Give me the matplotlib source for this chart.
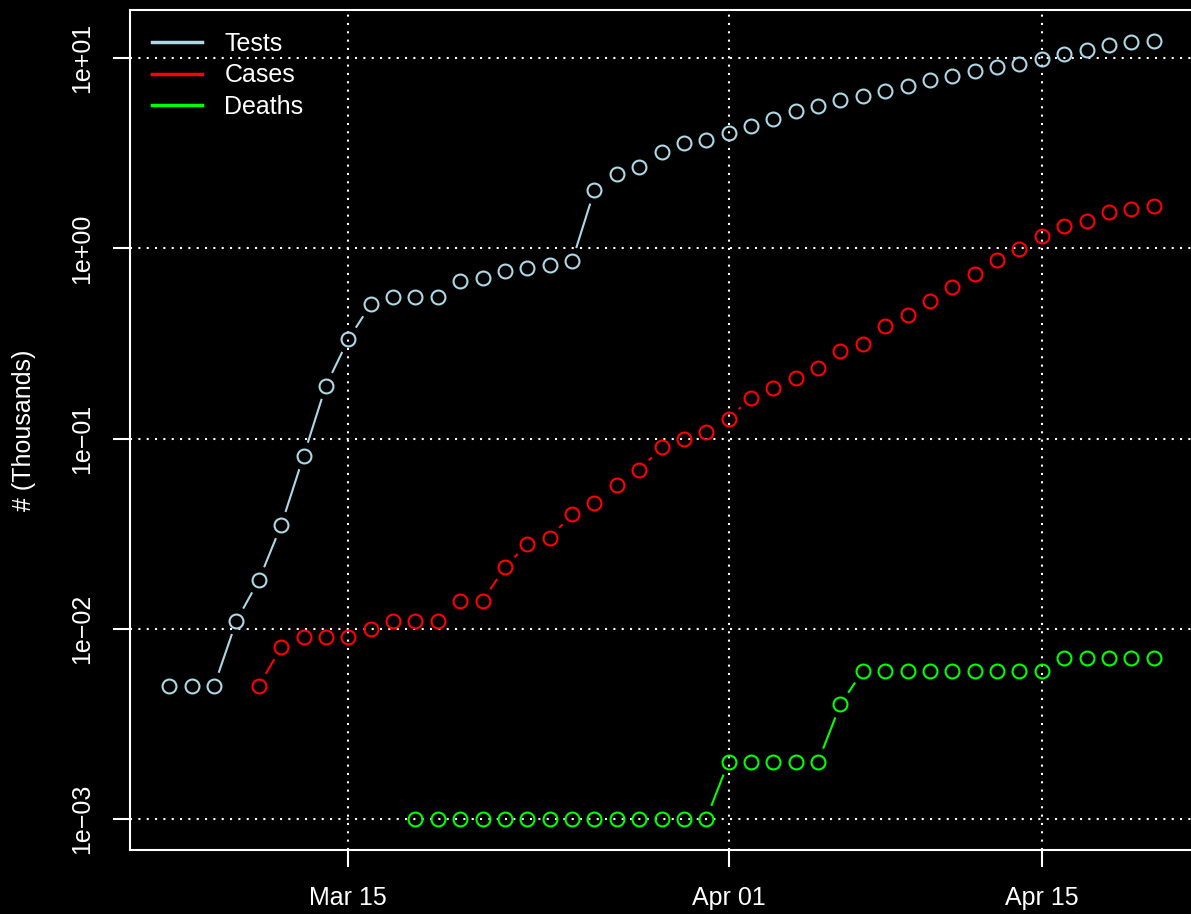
import numpy as np
import pandas as pd
import matplotlib
matplotlib.use('Agg')
import matplotlib.pyplot as plt
import matplotlib.dates as mdates
from matplotlib.lines import Line2D

# values in thousands, one per day
tests_start = '2020-03-07'
tests = [0.005, 0.005, 0.005, 0.011, 0.018, 0.035, 0.081, 0.19, 0.332, 0.507,
         0.558, 0.558, 0.558, 0.67, 0.70, 0.757, 0.785, 0.814, 0.855, 2.02,
         2.45, 2.67, 3.2, 3.57, 3.7, 4.03, 4.39, 4.78, 5.26, 5.59,
         6.01, 6.31, 6.7, 7.12, 7.66, 8.04, 8.55, 8.97, 9.3, 9.88,
         10.5, 11.0, 11.7, 12.1, 12.3]

cases_start = '2020-03-11'
cases = [0.005, 0.008, 0.009, 0.009, 0.009, 0.010, 0.011, 0.011, 0.011, 0.014,
         0.014, 0.021, 0.028, 0.030, 0.040, 0.046, 0.057, 0.068, 0.090, 0.100,
         0.108, 0.127, 0.164, 0.185, 0.209, 0.236, 0.287, 0.316, 0.393, 0.444,
         0.532, 0.624, 0.73, 0.865, 0.99, 1.16, 1.31, 1.40, 1.55, 1.62, 1.68]

deaths_start = '2020-03-18'
deaths = [0.001] * 14 + [0.002] * 5 + [0.004] + [0.006] * 9 + [0.007] * 5

series = [('Tests', tests_start, tests, 'lightblue'),
          ('Cases', cases_start, cases, 'red'),
          ('Deaths', deaths_start, deaths, '#00FF00')]

tick_dates = ['2020-03-15', '2020-04-01', '2020-04-15']
ytick_vals = [0.001, 0.01, 0.1, 1, 10]
ytick_labels = ['1e\u221203', '1e\u221202', '1e\u221201', '1e+00', '1e+01']

plt.rcParams['font.family'] = ['Liberation Sans', 'DejaVu Sans']

fig = plt.figure(figsize=(11.91, 9.14), dpi=100, facecolor='black')
ax = fig.add_axes([130 / 1191, 64 / 914, 1063 / 1191, 840 / 914])
ax.set_facecolor('black')
ax.set_yscale('log')

data = []
for name, start, vals, col in series:
    d = pd.date_range(start, periods=len(vals), freq='D')
    data.append((name, mdates.date2num(d.to_pydatetime()), np.array(vals), col))

# R-like limits: 4% padding each side
allx = np.concatenate([x for _, x, _, _ in data])
ally = np.log10(np.concatenate([y for _, _, y, _ in data]))
xr = allx.max() - allx.min()
yr = ally.max() - ally.min()
ax.set_xlim(allx.min() - 0.04 * xr, allx.max() + 0.04 * xr)
ax.set_ylim(10 ** (ally.min() - 0.04 * yr), 10 ** (ally.max() + 0.04 * yr))
ax.autoscale(False)

ax.set_xticks(mdates.date2num(pd.to_datetime(tick_dates).to_pydatetime()))
ax.xaxis.set_major_formatter(mdates.DateFormatter('%b %d'))
ax.xaxis.set_minor_locator(matplotlib.ticker.NullLocator())
ax.set_yticks(ytick_vals)
ax.set_yticklabels(ytick_labels)
ax.yaxis.set_minor_locator(matplotlib.ticker.NullLocator())

ax.grid(True, color='white', linestyle=(0, (1, 3)), linewidth=1.5)


def draw_b(x, y, col, gap=15):
    # type="b": segments broken around each point, short ones dropped
    pts = ax.transData.transform(np.column_stack([x, y]))
    inv = ax.transData.inverted()
    for p0, p1 in zip(pts[:-1], pts[1:]):
        dv = p1 - p0
        L = np.hypot(dv[0], dv[1])
        if L <= 2 * gap:
            continue
        u = dv / L
        seg = inv.transform([p0 + u * gap, p1 - u * gap])
        ax.plot(seg[:, 0], seg[:, 1], color=col, lw=1.5)
    ax.plot(x, y, 'o', mfc='none', mec=col, ms=10, mew=1.5, zorder=3)


for name, x, y, col in data:
    draw_b(x, y, col)

for side in ['left', 'bottom', 'top']:
    ax.spines[side].set_color('white')
    ax.spines[side].set_linewidth(1.5)
ax.spines['right'].set_visible(False)

ax.tick_params(colors='white', labelcolor='white', length=12, width=1.5,
               pad=14, labelsize=18)
plt.setp(ax.get_yticklabels(), rotation=90, va='center', ha='right')

ax.set_ylabel('# (Thousands)', color='white', fontsize=18)
ax.yaxis.set_label_coords(-(130 - 36) / 1063, 0.5)

handles = [Line2D([], [], color=col, lw=2.5) for _, _, _, col in data]
leg = ax.legend(handles, [n for n, _, _, _ in data], loc='upper left',
                bbox_to_anchor=(22 / 1063, 1 - 22 / 840), frameon=False,
                fontsize=18, labelcolor='white', handlelength=2.0,
                handletextpad=0.9, labelspacing=0.3, borderpad=0,
                borderaxespad=0)

fig.savefig('out.png', dpi=100, facecolor='black')
